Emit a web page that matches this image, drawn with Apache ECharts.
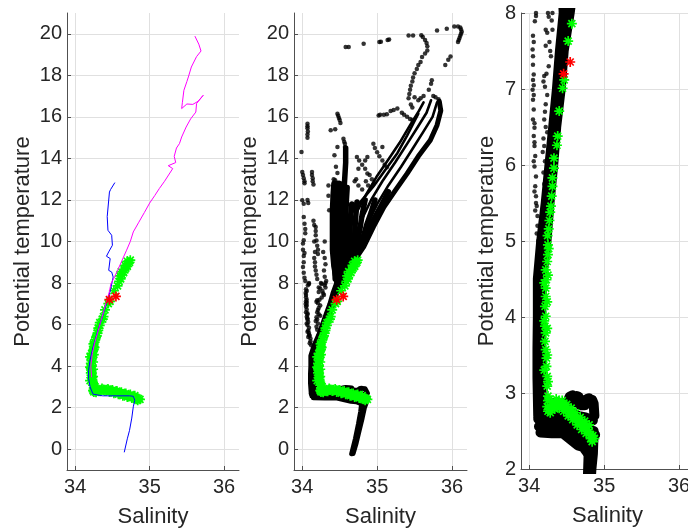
<!DOCTYPE html>
<html>
<head>
<meta charset="utf-8">
<script src="https://cdn.jsdelivr.net/npm/echarts@6/dist/echarts.min.js"></script>
<style>
html,body{margin:0;padding:0;background:#fff;}
#chart{width:688px;height:529px;}
</style>
</head>
<body>
<div id="chart"></div>
<script>
// ---- axis ticks ----
const salinityTicks = [34, 35, 36];
const tempTicksWide = [0, 2, 4, 6, 8, 10, 12, 14, 16, 18, 20];
const tempTicksZoom = [2, 3, 4, 5, 6, 7, 8];

// ---- panel 1: two reference profiles [salinity, potential temperature] ----
const blueProfile = [
  [34.66,-0.13],[34.70,0.5],[34.73,0.91],[34.76,1.5],[34.78,2.04],[34.80,2.36],[34.78,2.55],
  [34.73,2.57],[34.55,2.57],[34.37,2.57],[34.24,2.65],[34.20,3.0],[34.18,3.4],[34.18,3.8],
  [34.20,4.3],[34.24,4.92],[34.28,5.4],[34.32,5.89],[34.37,6.45],[34.42,7.01],[34.47,7.6],
  [34.51,8.29],[34.49,8.53],[34.45,8.61],[34.47,9.18],[34.42,9.29],[34.45,9.5],[34.50,9.82],
  [34.49,10.3],[34.44,10.54],[34.43,11.2],[34.46,12.38],[34.475,12.5],[34.53,12.82]
];
const magentaProfile = [
  [34.22,3.48],[34.21,4.0],[34.23,4.6],[34.26,5.1],[34.30,5.6],[34.34,6.1],[34.38,6.6],
  [34.42,7.1],[34.46,7.6],[34.48,7.97],[34.53,8.3],[34.57,8.61],[34.63,9.1],[34.69,9.58],
  [34.74,10.0],[34.78,10.46],[34.85,10.9],[34.93,11.4],[35.0,11.85],[35.07,12.22],[35.13,12.55],
  [35.2,12.9],[35.31,13.51],[35.25,13.65],[35.35,13.8],[35.33,14.1],[35.36,14.5],[35.40,14.71],
  [35.38,14.8],[35.43,15.03],[35.49,15.51],[35.55,15.9],[35.62,16.23],[35.63,16.64],[35.72,17.04],
  [35.65,16.75],[35.58,16.6],[35.50,16.62],[35.43,16.4],[35.44,16.7],[35.46,17.28],[35.50,17.7],
  [35.52,17.92],[35.56,18.4],[35.63,18.9],[35.69,19.17],[35.66,19.5],[35.61,19.87]
];

// ---- selected stations (green) and flagged stations (red) ----
const greenStars = [
  [34.87,2.40],[34.84,2.36],[34.85,2.44],[34.82,2.45],[34.80,2.49],[34.78,2.52],[34.75,2.54],
  [34.73,2.56],[34.71,2.58],[34.69,2.60],[34.66,2.63],[34.64,2.65],[34.62,2.67],[34.60,2.70],
  [34.58,2.72],[34.56,2.74],[34.53,2.76],[34.51,2.78],[34.48,2.81],[34.45,2.85],[34.42,2.86],
  [34.38,2.88],[34.35,2.86],[34.32,2.83],[34.29,2.80],[34.27,2.78],[34.25,2.76],
  [34.80,2.58],[34.74,2.63],[34.68,2.68],[34.62,2.74],[34.56,2.80],[34.50,2.85],[34.44,2.90],
  [34.36,2.92],[34.30,2.88],
  [34.82,2.40],[34.76,2.47],[34.70,2.52],[34.64,2.58],[34.58,2.65],[34.52,2.70],[34.46,2.76],
  [34.40,2.80],[34.34,2.79],[34.28,2.74],
  [34.24,2.82],[34.25,2.90],[34.25,2.96],[34.24,3.09],[34.24,3.22],[34.23,3.35],[34.23,3.46],
  [34.22,3.57],[34.21,3.68],[34.22,3.79],[34.21,3.88],[34.22,4.01],[34.21,4.14],[34.22,4.27],
  [34.22,4.38],[34.23,4.49],[34.22,4.62],[34.24,4.73],[34.25,4.82],[34.25,4.95],[34.245,5.07],
  [34.26,5.16],[34.27,5.27],[34.28,5.38],[34.29,5.46],[34.30,5.59],[34.31,5.72],[34.31,5.83],
  [34.33,5.96],[34.33,6.09],[34.37,6.26],[34.38,6.38],[34.40,6.71],[34.445,7.01],[34.467,7.12],
  [34.52,7.63],[34.569,7.86],
  [34.25,3.15],[34.24,3.5],[34.24,3.85],[34.24,4.2],[34.25,4.55],[34.26,4.9],[34.20,3.3],
  [34.20,3.95],[34.20,4.45],
  [34.59,8.08],[34.61,8.2],[34.60,8.35],[34.63,8.4],[34.62,8.55],[34.65,8.5],[34.66,8.65],
  [34.68,8.72],[34.67,8.85],[34.70,8.8],[34.71,8.95],[34.73,9.0],[34.74,9.1],[34.70,9.05]
];
const redStars = [[34.547,7.355],[34.459,7.20]];

// ---- full CTD data set: dense casts (drawn as continuous traces) ----
const castH1 = [[34.20,2.87],[34.35,2.87],[34.50,2.86],[34.54,2.95],[34.58,2.97],[34.60,2.88],[34.63,2.96],[34.66,2.95],[34.68,2.84],[34.74,2.84],[34.77,2.92],[34.80,2.93],[34.82,2.86],[34.84,2.91],[34.86,2.86],[34.87,2.7]];
const castH2 = [[34.14,2.77],[34.30,2.78],[34.45,2.77],[34.55,2.75],[34.65,2.70],[34.75,2.68],[34.85,2.64]];
const castH3 = [[34.12,2.66],[34.25,2.67],[34.40,2.66],[34.52,2.63],[34.62,2.57],[34.72,2.53],[34.84,2.50]];
const castH4 = [[34.13,2.56],[34.25,2.56],[34.40,2.55],[34.52,2.50],[34.62,2.44],[34.72,2.40],[34.82,2.38],[34.88,2.45]];
const castH5 = [[34.15,2.48],[34.30,2.47],[34.45,2.47],[34.55,2.39],[34.65,2.31],[34.72,2.29],[34.78,2.21],[34.82,2.25]];
const castTail1 = [[34.86,2.5],[34.85,2.2],[34.83,2.0],[34.80,1.5],[34.76,0.9],[34.72,0.3],[34.68,-0.2]];
const castTail2 = [[34.80,2.4],[34.79,2.1],[34.78,1.8],[34.75,1.2],[34.71,0.5],[34.66,-0.22]];
const castVA = [[34.12,2.7],[34.11,3.2],[34.11,3.6],[34.115,4.0],[34.115,4.5],[34.16,5.0],[34.22,5.5],[34.27,6.0],[34.32,6.5],[34.37,7.0],[34.41,7.5],[34.46,8.0],[34.42,8.8],[34.40,9.6],[34.40,10.5],[34.40,11.5],[34.41,12.3],[34.42,12.8]];
const castVB = [[34.15,2.8],[34.14,3.4],[34.14,4.0],[34.15,4.6],[34.20,5.0],[34.25,5.5],[34.30,6.0],[34.34,6.5],[34.39,7.0],[34.44,7.5],[34.50,8.0],[34.50,8.8],[34.50,9.6]];
const castVC = [[34.17,2.8],[34.16,3.2],[34.16,3.6],[34.16,4.0],[34.17,4.5],[34.23,5.0],[34.27,5.5],[34.32,6.0],[34.36,6.5],[34.42,7.0],[34.46,7.5],[34.54,8.0],[34.62,8.6],[34.70,9.1],[34.82,9.74],[34.95,10.7],[35.09,11.66],[35.25,12.5],[35.40,13.27],[35.55,14.1],[35.71,14.87],[35.80,15.6],[35.85,16.3],[35.83,16.75]];
const castD1 = [[34.44,8.2],[34.43,9.0],[34.43,10.0],[34.43,11.0],[34.44,12.0],[34.45,12.8]];
const castD2 = [[34.50,8.2],[34.47,9.0],[34.47,10.0],[34.47,11.0],[34.48,12.0],[34.49,12.8]];
const castD3 = [[34.53,8.0],[34.53,9.0],[34.52,10.0],[34.52,11.0],[34.53,12.0],[34.55,12.8]];
const castD4 = [[34.55,8.3],[34.58,9.0],[34.58,10.0],[34.58,11.0],[34.59,12.0],[34.60,12.6]];
const castD5 = [[34.58,8.5],[34.63,9.2],[34.64,10.0],[34.64,11.0],[34.66,11.8]];
const castD6 = [[34.62,8.8],[34.68,9.5],[34.70,10.3],[34.71,11.0],[34.73,11.9]];
const castD7 = [[34.66,9.0],[34.73,9.8],[34.77,10.6],[34.80,11.3],[34.84,12.0]];
const castD8 = [[34.70,9.2],[34.80,10.0],[34.86,10.8],[34.92,11.4],[34.97,12.0]];
const castD9 = [[34.74,9.5],[34.87,10.4],[34.96,11.1],[35.05,11.7],[35.15,12.4]];
const castB2 = [[34.75,9.9],[34.88,10.9],[35.0,11.8],[35.15,12.7],[35.32,13.6],[35.48,14.5],[35.62,15.3],[35.74,16.0],[35.80,16.7]];
const castB3 = [[34.68,10.1],[34.80,11.1],[34.92,12.0],[35.07,12.9],[35.24,13.8],[35.40,14.7],[35.54,15.5],[35.66,16.2],[35.72,16.8]];
const castB4 = [[34.62,10.5],[34.74,11.5],[34.86,12.3],[34.99,13.1],[35.15,13.95],[35.30,14.75],[35.44,15.6],[35.56,16.3],[35.62,16.7]];
const castB5 = [[34.58,11.0],[34.73,11.7],[34.95,12.65],[35.12,13.5],[35.27,14.25],[35.40,15.1],[35.50,15.8],[35.55,16.15]];
const castMid = [[34.58,14.5],[34.58,13.8],[34.57,13.2],[34.56,12.6]];

const deepCasts = [castH1, castH2, castH3, castH4, castH5, castTail1, castTail2, castVA, castVB, castVC];
const blockCasts = [castD1, castD2, castD3, castD4, castD5, castD6, castD7, castD8, castD9, castMid];
const bandCasts = [castB2, castB3, castB4, castB5];

// ---- full CTD data set: isolated samples ----
const freshSamples = [
  [34.11,5.2],[34.11,5.33],[34.10,5.46],[34.09,5.59],[34.08,5.72],[34.09,5.85],[34.07,5.98],
  [34.08,6.12],[34.07,6.25],[34.06,6.38],[34.07,6.49],[34.05,6.6],[34.06,6.73],[34.05,6.86],
  [34.045,6.99],[34.05,7.12],[34.06,7.19],[34.05,7.32],[34.05,7.43],[34.045,7.52],[34.06,7.62],
  [34.075,7.89],[34.09,7.96],[34.09,8.0],[34.06,6.05],[34.07,6.55],[34.06,6.92],[34.07,5.65],
  [34.10,5.1],[34.12,5.0],[34.08,5.4],[34.05,7.7],[34.06,7.05],[34.07,6.3],[34.09,5.5],
  [34.22,7.78],[34.24,7.74],[34.27,7.62],[34.22,7.57],[34.28,7.5],[34.29,7.43],[34.26,7.3],
  [34.20,7.17],[34.19,7.1],[34.21,7.03],[34.24,6.92],[34.22,6.8],[34.20,6.6],[34.22,6.5],
  [34.24,6.43],[34.20,6.25],[34.18,6.17],[34.21,6.05],[34.19,5.9],[34.20,5.75],[34.26,7.95],
  [34.25,8.0],[34.31,8.0],[34.31,7.78],[34.30,7.9],[34.21,6.7],[34.19,6.35],[34.23,7.2]
];
const upperSamples = [
  [33.99,14.31],[34.07,15.67],[34.07,15.55],[34.07,15.45],[34.075,15.3],[34.07,15.15],[34.07,15.0],
  [34.0,13.35],[34.01,13.2],[34.02,13.05],[34.03,12.9],[34.03,12.8],[34.13,13.35],[34.13,13.2],
  [34.14,13.05],[34.14,12.9],[34.15,12.75],[34.0,11.98],[34.02,11.82],[34.07,12.0],[34.08,11.85],
  [34.02,11.18],[34.03,10.86],[34.04,10.6],[34.04,10.4],[34.02,10.06],[34.01,9.9],[34.01,9.6],
  [34.03,9.45],[34.02,9.3],[34.02,9.0],[34.01,8.77],[34.02,8.5],[34.03,8.26],[34.04,8.1],
  [34.18,10.7],[34.18,10.5],[34.18,10.3],[34.19,10.05],[34.2,9.8],[34.21,9.6],[34.21,9.4],
  [34.15,11.0],[34.16,10.8],[34.16,10.0],[34.17,9.5],[34.16,9.2],[34.17,9.0],[34.17,8.8],
  [34.18,8.6],[34.19,8.4],[34.2,8.2],[34.30,10.0],[34.28,9.5],[34.30,9.2],[34.31,8.9],
  [34.29,8.6],[34.3,8.3],[34.32,8.1],[34.35,12.7],[34.35,12.2],[34.36,11.5],
  [34.47,16.15],[34.48,16.05],[34.49,15.95],[34.50,15.85],[34.51,15.7],[34.38,15.35],[34.44,15.4],
  [34.55,14.95],[34.56,14.8],[34.57,14.7],[34.57,14.55],[34.47,14.55],[34.43,14.15],[34.45,13.6],
  [34.47,13.3],[34.42,13.0],[34.44,12.95],
  [34.95,14.71],[34.97,14.5],[35.0,14.3],[35.03,14.1],[35.07,13.9],[35.1,13.7],[35.13,13.57],
  [35.07,14.55],[34.73,14.07],[34.76,13.9],[34.8,13.7],[34.84,13.5],[34.87,13.27],[34.87,14.07],
  [34.84,13.9],[34.75,13.5],[34.7,12.9],[34.75,12.7],[34.8,12.5],[34.72,13.0],[34.9,13.2],
  [34.93,13.0],[34.96,12.8],[34.85,12.9],[34.88,12.7],
  [35.02,16.07],[35.04,16.1],[35.09,16.1],[35.13,16.12],[35.18,16.28],[35.22,16.33],[35.27,16.4],
  [35.33,16.2],[35.36,16.1],[35.40,16.0],[35.44,15.9],[35.47,15.85],
  [35.42,16.9],[35.43,17.1],[35.44,17.3],[35.45,17.5],[35.47,17.7],[35.48,17.9],[35.50,18.1],
  [35.53,18.3],[35.55,18.5],[35.58,18.64],[35.60,18.88],[35.64,19.05],[35.67,19.2],[35.67,19.4],
  [35.66,19.55],[35.64,19.7],[35.61,19.85],[35.59,19.93],
  [34.58,19.36],[34.62,19.36],[34.82,19.52],[35.03,19.6],[35.05,19.61],[35.14,19.7],[35.16,19.72],
  [35.42,19.92],[35.48,19.92],
  [35.80,20.16],[35.93,20.24],[36.03,20.35],[36.08,20.35],[36.11,20.3],[36.12,20.2],[36.13,20.1],
  [36.12,20.0],[36.11,19.9],[36.10,19.8],[36.09,19.7],[36.08,19.6],[35.98,18.9],[35.95,18.75],
  [35.91,18.5],
  [35.73,17.76],[35.72,17.6],[35.69,17.3],[35.75,17.0],[35.82,16.85],[35.78,16.95],[35.58,16.9],
  [35.62,17.0],[35.55,16.8],[35.50,16.95],[35.45,16.6],[35.47,16.45]
];

// ---- styling ----
const FONT = '"Liberation Sans", Arial, Helvetica, sans-serif';
const INK = '#262626';
const AXIS = '#505050';
const GRIDC = '#e0e0e0';
const STAR = 'path://M10,0L10,20M0,10L20,10M3,3L17,17M3,17L17,3';

function xAxisFor(gi) {
  return {
    type: 'value', gridIndex: gi, min: 33.89, max: 36.2,
    name: 'Salinity', nameLocation: 'middle', nameGap: 36,
    nameTextStyle: {fontSize: 22, color: INK, fontFamily: FONT},
    axisLine: {show: true, onZero: false, lineStyle: {color: AXIS, width: 1}},
    axisTick: {show: true, inside: true, length: 4, customValues: salinityTicks, lineStyle: {color: AXIS}},
    axisLabel: {customValues: salinityTicks, fontSize: 20, color: INK, fontFamily: FONT, margin: 7},
    splitLine: {show: true, lineStyle: {color: GRIDC, width: 1}}
  };
}
function yAxisFor(gi, min, max, ticks, gap) {
  return {
    type: 'value', gridIndex: gi, min: min, max: max,
    name: 'Potential temperature', nameLocation: 'middle', nameGap: gap, nameRotate: 90,
    nameTextStyle: {fontSize: 22, color: INK, fontFamily: FONT},
    axisLine: {show: true, onZero: false, lineStyle: {color: AXIS, width: 1}},
    axisTick: {show: true, inside: true, length: 4, customValues: ticks, lineStyle: {color: AXIS}},
    axisLabel: {customValues: ticks, fontSize: 20, color: INK, fontFamily: FONT, margin: 5},
    splitLine: {show: true, lineStyle: {color: GRIDC, width: 1}}
  };
}
function trace(data, gi, color, width, z) {
  return {type: 'line', xAxisIndex: gi, yAxisIndex: gi, data: data, symbol: 'none', silent: true, z: z,
          lineStyle: {color: color, width: width, cap: 'round', join: 'round'}};
}
function dots(data, gi) {
  return {type: 'scatter', xAxisIndex: gi, yAxisIndex: gi, data: data, symbol: 'circle', z: 4,
          symbolSize: 4.5, silent: true, itemStyle: {color: '#000'}};
}
function stars(data, gi, color, z) {
  return {type: 'scatter', xAxisIndex: gi, yAxisIndex: gi, data: data, symbol: STAR, symbolSize: 10,
          silent: true, z: z, itemStyle: {color: color, borderColor: color, borderWidth: 1.7, opacity: 1}};
}

const series = [];
// panel 1
series.push(stars(greenStars, 0, '#00ff00', 5));
series.push(trace(blueProfile, 0, '#0000ff', 1, 6));
series.push(trace(magentaProfile, 0, '#ff00ff', 1, 6));
series.push(stars(redStars, 0, '#ff0000', 7));
// panel 2
deepCasts.forEach(c => series.push(trace(c, 1, '#000', 5, 3)));
blockCasts.forEach(c => series.push(trace(c, 1, '#000', 5.5, 3)));
bandCasts.forEach(c => series.push(trace(c, 1, '#000', 2.6, 3)));
series.push(dots(freshSamples, 1));
series.push(dots(upperSamples, 1));
series.push(stars(greenStars, 1, '#00ff00', 8));
series.push(stars(redStars, 1, '#ff0000', 9));
// panel 3
deepCasts.forEach(c => series.push(trace(c, 2, '#000', 10, 3)));
blockCasts.forEach(c => series.push(trace(c, 2, '#000', 10, 3)));
series.push(dots(freshSamples, 2));
series.push(dots(upperSamples, 2));
series.push(stars(greenStars, 2, '#00ff00', 8));
series.push(stars(redStars, 2, '#ff0000', 9));

const chart = echarts.init(document.getElementById('chart'), null, {renderer: 'canvas'});
chart.setOption({
  animation: false,
  backgroundColor: '#ffffff',
  grid: [
    {left: 67, top: 13, width: 172, height: 457, outerBoundsMode: 'none'},
    {left: 294, top: 13, width: 173, height: 457, outerBoundsMode: 'none'},
    {left: 521, top: 13, width: 173, height: 456, outerBoundsMode: 'none'}
  ],
  xAxis: [xAxisFor(0), xAxisFor(1), xAxisFor(2)],
  yAxis: [
    yAxisFor(0, -1, 21, tempTicksWide, 33),
    yAxisFor(1, -1, 21, tempTicksWide, 33),
    yAxisFor(2, 2, 8, tempTicksZoom, 23)
  ],
  series: series
});
</script>
</body>
</html>
